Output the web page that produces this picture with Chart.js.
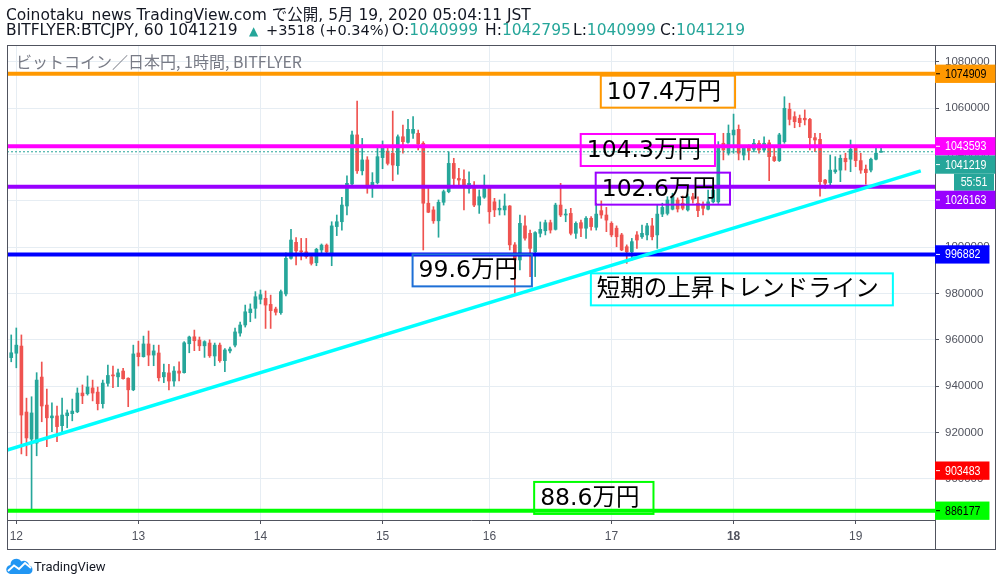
<!DOCTYPE html>
<html>
<head>
<meta charset="utf-8">
<script src="https://cdn.jsdelivr.net/npm/chart.js@4.4.1/dist/chart.umd.min.js"></script>
<style>
  html, body { margin: 0; padding: 0; background: #fff; }
  #wrap { position: relative; width: 1002px; height: 586px; overflow: hidden; }
  #chart { position: absolute; left: 0; top: 0; }
  .hd { position: absolute; font-family: "DejaVu Sans", "Noto Sans CJK JP", sans-serif; font-size: 15.5px; line-height: 16px; color: #131722; white-space: nowrap; }
  .up { color: #26a69a; }
  .tri { font-size: 12px; color: #26a69a; }
  #sym { position: absolute; left: 16px; top: 52px; font-family: "Noto Sans CJK JP", sans-serif; font-size: 16px; line-height: 18px; color: #787b86; white-space: nowrap; }
  #logo { position: absolute; left: 6px; top: 558px; font-family: Roboto, sans-serif; font-size: 13px; color: #131722; white-space: nowrap; display: flex; align-items: center; gap: 1px; }
</style>
</head>
<body>
<div id="wrap">
  <canvas id="chart" width="1002" height="586"></canvas>
  <div class="hd" style="top:7px;left:6px">Coinotaku_news TradingView.com で公開, 5月 19, 2020 05:04:11 JST</div>
  <div class="hd" style="top:22px;left:6px">BITFLYER:BTCJPY, 60 1041219</div>
  <div class="hd tri" style="top:23px;left:249px">▲</div>
  <div class="hd" style="top:22px;left:266px;font-size:14.5px">+3518 (+0.34%)</div>
  <div class="hd" style="top:22px;left:392px">O:<span class="up">1040999</span></div>
  <div class="hd" style="top:22px;left:485px">H:<span class="up">1042795</span></div>
  <div class="hd" style="top:22px;left:573px">L:<span class="up">1040999</span></div>
  <div class="hd" style="top:22px;left:660px">C:<span class="up">1041219</span></div>
  <div id="sym">ビットコイン／日本円, 1時間, BITFLYER</div>
  <div id="logo">
    <svg width="27" height="16" viewBox="0 0 27 16"><path d="M5 16a4.5 4.5 0 0 1-.5-9 6 6 0 0 1 11-3.5 5 5 0 0 1 7.5 4 4.3 4.3 0 0 1-.5 8.5z" fill="#2196f3"/><polyline points="2,13 8,7.5 13,11 19,5 25,10" stroke="#fff" stroke-width="1.8" fill="none"/></svg>
    <span>TradingView</span>
  </div>
</div>
<script>
// 1時間足 BTC/JPY (bitFlyer), 5/11 22:00 〜 5/19 05:00
const firstIndex = -2; // 12日 00:00 を 0 とした足番号
const opens = [
  954700, 952300,
  954200, 957300, 928800, 917100, 915400, 943900, 931800, 926300, 927100, 922900, 927200, 928100, 928900, 937000, 936700, 939200, 937400, 932400, 941200, 944800, 944000, 946500, 943400, 938400,
  954300, 952700, 958200, 953400, 954300, 944000, 945700, 942200, 946500, 945800, 958300, 961300, 959900, 957400, 958600, 953000, 957700, 951000, 955200, 957700, 962900, 966400, 971700, 973600,
  977500, 977900, 975300, 973300, 971700, 979800, 995200, 1002100, 998400, 998000, 995900, 993300, 998800, 1000900, 997400, 1008900, 1011000, 1017800, 1027300, 1048500, 1033000, 1037700, 1026900, 1027900,
  1038700, 1041500, 1040500, 1035200, 1047700, 1045300, 1049200, 1049200, 1044900, 1019000, 1016100, 1011400, 1019400, 1024000, 1036200, 1029700, 1029300, 1025400, 1026000, 1018200, 1021600,
  1025400, 1019600, 1016100, 1016100, 1017800, 1001000, 994500, 1009200, 1006000, 998000, 1006000, 1007100, 1010600, 1007700, 1018200, 1013900, 1014600, 1006000, 1010600, 1008200, 1012500, 1008600, 1015800, 1013900,
  1010300, 1008200, 1005300, 1000200, 998000, 1005300, 1004500, 1005300, 1009200, 1005300, 1014300, 1014600, 1016400, 1020400, 1019000, 1016100, 1021800, 1019000, 1018200, 1016400, 1019600, 1019600, 1044900, 1040600,
  1048500, 1050900, 1039800, 1042700, 1042300, 1044900, 1042000, 1045100, 1039100, 1037400, 1045600, 1059600, 1056400, 1055700, 1055700, 1055200, 1047300, 1046600, 1029000, 1027900, 1032600, 1033300, 1038400, 1038000,
  1042700, 1037400, 1033700, 1033300, 1038000, 1040999
];
const highs = [
  956400, 962100,
  965100, 962100, 934800, 935400, 945800, 950400, 938700, 932800, 931400, 934800, 929700, 934400, 939200, 940500, 944400, 942600, 939600, 942600, 949100, 948700, 947400, 947700, 943600, 957700,
  959400, 961600, 963800, 957700, 957700, 949500, 949400, 948400, 950500, 959200, 961600, 964200, 961200, 959600, 960000, 958600, 958600, 956200, 956900, 965100, 967700, 975000, 975500, 980800,
  981500, 981100, 979300, 974100, 981500, 997600, 1007700, 1004100, 1003800, 1003800, 996600, 999500, 1001400, 1001400, 1011000, 1013900, 1021500, 1030800, 1050200, 1063100, 1047000, 1039100, 1032200, 1042900,
  1045900, 1042900, 1058800, 1048500, 1052800, 1055200, 1056400, 1050600, 1045600, 1025400, 1017500, 1020400, 1024700, 1041200, 1038400, 1034100, 1033400, 1032600, 1028300, 1024700, 1031200,
  1025600, 1021100, 1020400, 1023000, 1018000, 1002000, 1013900, 1013500, 1007400, 1006700, 1010900, 1011700, 1011700, 1019000, 1027600, 1016400, 1016800, 1011000, 1011700, 1013200, 1013200, 1019000, 1020000, 1017200,
  1011000, 1009200, 1006000, 1001000, 1003800, 1006700, 1009600, 1010300, 1012500, 1018200, 1019000, 1021800, 1023300, 1021300, 1022100, 1023000, 1023300, 1021800, 1019600, 1024700, 1025600, 1045600, 1049200, 1052800,
  1057500, 1052800, 1043400, 1044200, 1046600, 1046000, 1047700, 1046300, 1042700, 1049200, 1065000, 1062200, 1058500, 1057100, 1059300, 1055700, 1049200, 1049200, 1029300, 1039800, 1039100, 1039800, 1040600, 1046300,
  1043400, 1040600, 1035500, 1038500, 1042700, 1042795
];
const lows = [
  951300, 950500,
  947900, 910700, 909900, 886177, 909900, 924600, 913800, 920300, 916000, 919700, 922000, 925000, 928500, 932400, 936100, 933600, 929700, 930500, 940000, 939300, 939700, 943000, 931100, 938000,
  948700, 952500, 948800, 948800, 942200, 941500, 938400, 940000, 942200, 945600, 954400, 955300, 955300, 952400, 952400, 948800, 950300, 946200, 954300, 956900, 961600, 965500, 967800, 969300,
  975500, 964900, 964900, 970700, 971000, 979000, 994800, 992300, 994500, 995200, 992300, 992000, 996600, 997600, 992000, 1005000, 1007400, 1013900, 1026500, 1031900, 1031200, 1023300, 1021500, 1027300,
  1033900, 1035500, 1028700, 1031500, 1040600, 1044900, 1047000, 1042000, 998800, 1014900, 1010300, 1004300, 1018200, 1023500, 1026900, 1026100, 1016100, 1023300, 1017500, 1014600, 1021100,
  1010300, 1013200, 1013900, 1013900, 998800, 980100, 990200, 1003000, 987300, 987300, 1004400, 1005300, 1006100, 1007400, 1013200, 1011000, 1005300, 1003800, 1004500, 1003800, 1007400, 1007400, 1012500, 1006700,
  1004500, 1000200, 998500, 993000, 994500, 999500, 1003800, 1003100, 1003100, 999500, 1013200, 1013900, 1016100, 1015200, 1016100, 1015600, 1019000, 1013200, 1013900, 1016100, 1019100, 1018900, 1037700, 1039800,
  1040600, 1037700, 1037700, 1037700, 1041200, 1040600, 1041200, 1028700, 1037000, 1037000, 1044900, 1052800, 1051600, 1052000, 1052800, 1042000, 1041300, 1022000, 1025400, 1026900, 1031900, 1028300, 1033300, 1032600,
  1034800, 1031900, 1027200, 1032500, 1037700, 1040999
];
const closes = [
  952100, 954400,
  957700, 927500, 917600, 928400, 942600, 931400, 926300, 927100, 922500, 927500, 928400, 929200, 937000, 935800, 939600, 937000, 932400, 941300, 944600, 944400, 945700, 943200, 938400, 953900,
  952700, 958200, 953400, 955200, 943600, 945900, 942200, 946500, 945600, 958700, 961200, 959600, 957400, 959200, 953100, 957700, 951000, 955600, 956000, 963400, 966400, 972100, 973300, 978600,
  979500, 975000, 972600, 971900, 980800, 995200, 1003100, 998400, 998000, 995900, 993000, 999100, 1000900, 998000, 1009200, 1011000, 1018200, 1027600, 1048500, 1033000, 1037700, 1026900, 1028000, 1039100,
  1043400, 1036200, 1035500, 1047700, 1045600, 1050900, 1050900, 1044600, 1019000, 1015100, 1011400, 1019400, 1024000, 1036200, 1029700, 1029000, 1026900, 1027600, 1018200, 1021800, 1025400,
  1015300, 1016100, 1016800, 1017800, 1001000, 994500, 1010300, 1003900, 999500, 1006300, 1007700, 1010600, 1007400, 1018200, 1013900, 1014300, 1006000, 1010300, 1008200, 1012500, 1008900, 1014300, 1013900, 1011700,
  1005300, 1004500, 998800, 998000, 1002400, 1003100, 1006000, 1009200, 1004500, 1014300, 1017200, 1020400, 1021800, 1016500, 1016800, 1021800, 1020700, 1015800, 1016800, 1019600, 1024700, 1043400, 1042000, 1049200,
  1050600, 1040600, 1042700, 1041700, 1044900, 1042000, 1044900, 1039100, 1037400, 1048500, 1060000, 1055200, 1054200, 1053800, 1055000, 1047300, 1046300, 1028300, 1027600, 1033300, 1033400, 1038400, 1036900, 1042300,
  1037400, 1033300, 1032200, 1038000, 1040600, 1041219
];

// 日付目盛り (足番号 → 日)
const dayTicks = [0, 24, 48, 72, 93, 117, 141, 165];
const dayLabels = ['12', '13', '14', '15', '16', '17', '18', '19'];
const priceTicks = [900000, 920000, 940000, 960000, 980000, 1000000, 1020000, 1040000, 1060000, 1080000];

// 水平線
const levelValues = [1074909, 1043593, 1026163, 996882, 886177];
const levelColors = ['#ff9800', '#ff00ff', '#9900ff', '#0000ff', '#00ff00'];
const lastPrice = 1041219;

// 短期の上昇トレンドライン (足番号, 価格)
const trendX = [-1.8, 177.8];
const trendY = [912400, 1033000];

// 価格軸ラベル
const axisLabelValues = [1074909, 1043593, 1041219, 1026163, 996882, 903483, 886177];
const axisLabelBg = ['#ff9800', '#ff00ff', '#26a69a', '#9900ff', '#0000ff', '#ff0000', '#00ff00'];
const axisLabelFg = ['#000000', '#ffffff', '#ffffff', '#ffffff', '#ffffff', '#ffffff', '#000000'];
const countdown = '55:51';

// テキスト注記 (左上アンカー: 足番号, 価格)
const noteTexts = ['107.4万円', '104.3万円', '102.6万円', '99.6万円', '短期の上昇トレンドライン', '88.6万円'];
const noteX = [114.9, 110.95, 113.9, 77.9, 112.95, 101.8];
const noteY = [1074100, 1048900, 1032200, 996900, 988700, 898600];
const noteColors = ['#ff9800', '#ff00ff', '#9900ff', '#1e6fd6', '#00ffff', '#00ff00'];

const xMin = -1.83, xMax = 180.6;
const yMin = 882160, yMax = 1087340;

const xs = opens.map((_, k) => k + firstIndex);
const candleColors = closes.map((c, k) => c >= opens[k] ? '#26a69a' : '#ef5350');
const axisFont = '"Liberation Sans", sans-serif';

const overlayPlugin = {
  id: 'overlay',
  afterDatasetsDraw(chart) {
    const { ctx, scales: { x, y } } = chart;
    ctx.save();
    ctx.font = '23.5px "DejaVu Sans", "Noto Sans CJK JP", sans-serif';
    ctx.textBaseline = 'middle';
    noteTexts.forEach((t, k) => {
      const px = x.getPixelForValue(noteX[k]);
      const py = y.getPixelForValue(noteY[k]);
      const w = ctx.measureText(t).width + 20;
      const h = 32;
      ctx.strokeStyle = noteColors[k];
      ctx.lineWidth = 2;
      ctx.strokeRect(px, py, w, h);
      ctx.fillStyle = '#000';
      ctx.fillText(t, px + 6, py + h / 2 + 1);
    });
    ctx.restore();
  },
  afterDraw(chart) {
    const { ctx, chartArea: a, scales: { y } } = chart;
    ctx.save();
    // 枠
    ctx.strokeStyle = '#50535e';
    ctx.lineWidth = 1;
    ctx.strokeRect(a.left + 0.5, a.top + 0.5, 996 - a.left - 1, 549 - a.top);
    ctx.beginPath();
    ctx.moveTo(a.right + 0.5, a.bottom);
    ctx.lineTo(a.right + 0.5, 549);
    ctx.stroke();

    // 価格ラベル (重なりは下へずらす)
    ctx.font = '12.5px ' + axisFont;
    ctx.textBaseline = 'middle';
    const sx = 0.85;
    const h = 18.3;
    let prevBottom = -Infinity;
    const drawText = (txt, tx, ty) => {
      ctx.save();
      ctx.translate(tx, ty);
      ctx.scale(sx, 1);
      ctx.fillText(txt, 0, 0);
      ctx.restore();
    };
    axisLabelValues.forEach((v, k) => {
      let top = y.getPixelForValue(v) - h / 2;
      if (top < prevBottom) top = prevBottom;
      const txt = String(v);
      const w = ctx.measureText(txt).width * sx + 19;
      ctx.fillStyle = axisLabelBg[k];
      ctx.fillRect(a.right, top, w, h);
      ctx.fillStyle = axisLabelFg[k];
      ctx.fillRect(a.right + 1, top + h / 2 - 0.5, 4, 1);
      drawText(txt, a.right + 10, top + h / 2 + 0.5);
      prevBottom = top + h;
      if (v === lastPrice) {
        const cw = 40, ch = 17;
        ctx.fillStyle = '#26a69a';
        ctx.fillRect(a.right + 59 - cw, prevBottom, cw, ch);
        ctx.fillStyle = '#ffffff';
        const tw = ctx.measureText(countdown).width * sx;
        drawText(countdown, a.right + 59 - cw / 2 - tw / 2, prevBottom + ch / 2 + 0.5);
        prevBottom += ch;
      }
    });
    ctx.restore();
  }
};

const datasets = [];
levelValues.forEach((v, k) => {
  datasets.push({
    type: 'line',
    data: [{ x: xMin, y: v }, { x: xMax, y: v }],
    borderColor: levelColors[k],
    borderWidth: 4,
    pointRadius: 0,
    order: 1
  });
});
datasets.push({
  type: 'line',
  data: [{ x: xMin, y: lastPrice }, { x: xMax, y: lastPrice }],
  borderColor: '#26a69a',
  borderWidth: 1,
  borderDash: [2, 2],
  pointRadius: 0,
  order: 2
});
datasets.push({
  type: 'line',
  data: trendX.map((tx, k) => ({ x: tx, y: trendY[k] })),
  borderColor: '#00ffff',
  borderWidth: 3.5,
  pointRadius: 0,
  order: 0
});
// ヒゲ
datasets.push({
  type: 'bar',
  data: xs.map((tx, k) => ({ x: tx, y: [lows[k], highs[k]] })),
  backgroundColor: candleColors,
  barThickness: 1,
  grouped: false,
  order: 4
});
// 実体
datasets.push({
  type: 'bar',
  data: xs.map((tx, k) => ({ x: tx, y: [opens[k], closes[k]] })),
  backgroundColor: candleColors,
  barThickness: 3,
  minBarLength: 1,
  grouped: false,
  order: 3
});

const dayFont = c => {
  const lab = c.tick ? dayLabels[dayTicks.indexOf(c.tick.value)] : '';
  return { family: axisFont, size: 12, weight: lab === '18' ? 'bold' : 'normal' };
};

new Chart(document.getElementById('chart').getContext('2d'), {
  type: 'bar',
  data: { datasets },
  options: {
    responsive: false,
    animation: false,
    layout: { padding: { left: 7, right: 6, top: 45, bottom: 37 } },
    plugins: { legend: { display: false }, tooltip: { enabled: false } },
    scales: {
      x: {
        type: 'linear',
        min: xMin,
        max: xMax,
        offset: false,
        afterBuildTicks: s => { s.ticks = dayTicks.map(v => ({ value: v })); },
        afterFit: s => { s.height = 29; },
        ticks: {
          autoSkip: false,
          maxRotation: 0,
          padding: 5,
          color: '#50535e',
          font: dayFont,
          callback: v => dayLabels[dayTicks.indexOf(v)]
        },
        grid: { offset: false, color: '#e6edf3', tickColor: '#50535e', tickLength: 4 },
        border: { color: '#50535e' }
      },
      y: {
        position: 'right',
        min: yMin,
        max: yMax,
        afterBuildTicks: s => { s.ticks = priceTicks.map(v => ({ value: v })); },
        afterFit: s => { s.width = 61; },
        ticks: {
          padding: 6,
          color: '#50535e',
          font: { family: axisFont, size: 11.5 },
          callback: v => String(v)
        },
        grid: { color: '#e6edf3', tickColor: '#50535e', tickLength: 4 },
        border: { color: '#50535e' }
      }
    }
  },
  plugins: [overlayPlugin]
});
</script>
</body>
</html>
